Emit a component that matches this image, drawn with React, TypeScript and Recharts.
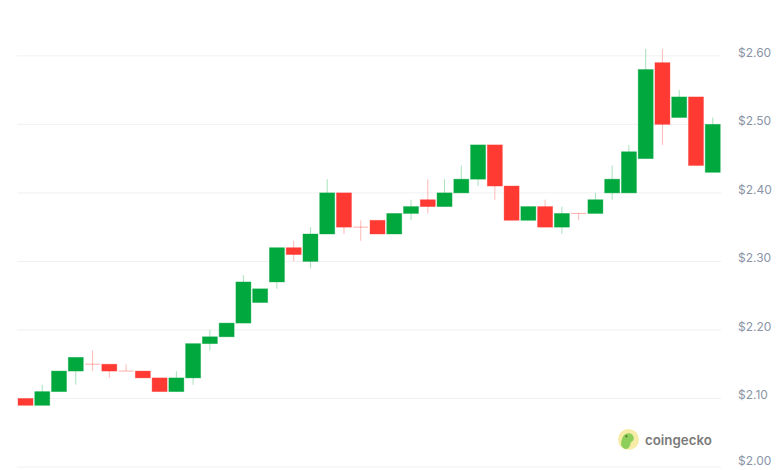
import { ComposedChart, Bar, XAxis, YAxis, CartesianGrid } from 'recharts';

// one candle per period
const opens = [
  2.10, 2.09, 2.11, 2.14, 2.15, 2.15, 2.14, 2.14, 2.13, 2.11,
  2.13, 2.18, 2.19, 2.21, 2.24, 2.27, 2.32, 2.30, 2.34, 2.40,
  2.35, 2.36, 2.34, 2.37, 2.39, 2.38, 2.40, 2.42, 2.47, 2.41,
  2.36, 2.38, 2.35, 2.37, 2.37, 2.40, 2.40, 2.45, 2.59, 2.51,
  2.54, 2.43,
];
const highs = [
  2.10, 2.12, 2.14, 2.16, 2.17, 2.15, 2.15, 2.14, 2.13, 2.14,
  2.18, 2.20, 2.21, 2.28, 2.26, 2.32, 2.33, 2.35, 2.42, 2.40,
  2.36, 2.36, 2.37, 2.39, 2.42, 2.42, 2.44, 2.47, 2.47, 2.41,
  2.38, 2.39, 2.38, 2.37, 2.40, 2.44, 2.47, 2.61, 2.61, 2.55,
  2.54, 2.51,
];
const lows = [
  2.09, 2.09, 2.11, 2.12, 2.14, 2.13, 2.14, 2.13, 2.11, 2.11,
  2.12, 2.17, 2.19, 2.21, 2.24, 2.26, 2.30, 2.29, 2.34, 2.34,
  2.33, 2.34, 2.34, 2.36, 2.37, 2.38, 2.40, 2.41, 2.39, 2.36,
  2.36, 2.35, 2.34, 2.36, 2.37, 2.39, 2.40, 2.45, 2.47, 2.51,
  2.44, 2.43,
];
const closes = [
  2.09, 2.11, 2.14, 2.16, 2.15, 2.14, 2.14, 2.13, 2.11, 2.13,
  2.18, 2.19, 2.21, 2.27, 2.26, 2.32, 2.31, 2.34, 2.40, 2.35,
  2.35, 2.34, 2.37, 2.38, 2.38, 2.40, 2.42, 2.47, 2.41, 2.36,
  2.38, 2.35, 2.37, 2.37, 2.39, 2.42, 2.46, 2.58, 2.50, 2.54,
  2.44, 2.50,
];

const priceTicks = [2.0, 2.1, 2.2, 2.3, 2.4, 2.5, 2.6];
// day boundaries, in candle units
const dayTicks = [2.5, 8.5, 14.5, 20.5, 26.5, 32.5, 38.5];

const UP = '#00a83e';
const DOWN = '#ff3a33';

const data = opens.map((o, i) => ({
  idx: i,
  open: o,
  high: highs[i],
  low: lows[i],
  close: closes[i],
  range: [lows[i], highs[i]],
}));

const Candle = (props: any) => {
  const { x, y, width, height, payload } = props;
  if (x == null || y == null) return null;
  const { open, close, high, low } = payload;
  const color = close > open ? UP : DOWN;
  const top = Math.min(y, y + height);
  const h = Math.abs(height);
  const ratio = high === low ? 0 : h / (high - low);
  const yOf = (v: number) => top + (high - v) * ratio;
  const bodyTop = yOf(Math.max(open, close));
  const bodyBot = yOf(Math.min(open, close));
  const cx = x + width / 2;
  const doji = bodyBot - bodyTop < 1;
  return (
    <g>
      <line x1={cx} x2={cx} y1={top} y2={top + h} stroke={color} strokeOpacity={0.35} strokeWidth={1} />
      {doji ? (
        <line x1={x} x2={x + width} y1={bodyTop} y2={bodyTop} stroke={color} strokeOpacity={0.4} strokeWidth={1} />
      ) : (
        <rect
          x={x}
          y={bodyTop}
          width={width}
          height={bodyBot - bodyTop}
          fill={color}
          stroke={color}
          strokeOpacity={0.45}
          strokeWidth={0.8}
        />
      )}
    </g>
  );
};

// price labels sit a little above their grid line; the bottom one is pushed up to fit
const PriceTick = (props: any) => {
  const { x, y, payload } = props;
  const ty = Math.min(y - 3.5, 461);
  return (
    <text x={x} y={ty} dy="0.355em" fill="#8a94a6" fontSize={12} fontFamily="Inter, sans-serif" textAnchor="start">
      {`$${payload.value.toFixed(2)}`}
    </text>
  );
};

const Watermark = () => (
  <div
    style={{
      position: 'absolute',
      left: 618,
      top: 429,
      display: 'flex',
      alignItems: 'center',
      fontFamily: 'Inter, sans-serif',
    }}
  >
    <svg width={21} height={21} viewBox="0 0 20 20">
      <circle cx={10} cy={10} r={10} fill="#f6eca8" />
      <path d="M3 15 C3 8 6 4 10 4 C13 4 15 6 15 9 C15 11 13 12 12 13 C12 16 10 19 7 19 C5 18 3 17 3 15 Z" fill="#8dcf5a" />
      <circle cx={8} cy={7} r={1} fill="#4a6b30" />
    </svg>
    <span style={{ marginLeft: 6, fontSize: 13.3, fontWeight: 600, color: '#7a7a7a' }}>coingecko</span>
  </div>
);

export default function App() {
  return (
    <div style={{ position: 'relative', width: 780, height: 470, background: '#fff' }}>
      <style>{'body{margin:0}'}</style>
      <ComposedChart width={780} height={470} data={data} margin={{ top: 1, right: 0, bottom: 0, left: 17 }}>
        <CartesianGrid horizontal vertical={false} stroke="#f0f0f2" syncWithTicks />
        <XAxis
          dataKey="idx"
          type="number"
          domain={[-0.5, 41.5]}
          ticks={dayTicks}
          tick={false}
          tickSize={3}
          tickLine={{ stroke: '#e6e8ec' }}
          axisLine={false}
          height={3}
        />
        <YAxis
          orientation="right"
          domain={[2.0, 2.68]}
          ticks={priceTicks}
          interval={0}
          allowDataOverflow
          width={59}
          axisLine={false}
          tickLine={false}
          tickMargin={11}
          tick={<PriceTick />}
        />
        <Bar dataKey="range" barSize={15} shape={<Candle />} isAnimationActive={false} />
      </ComposedChart>
      <Watermark />
    </div>
  );
}
